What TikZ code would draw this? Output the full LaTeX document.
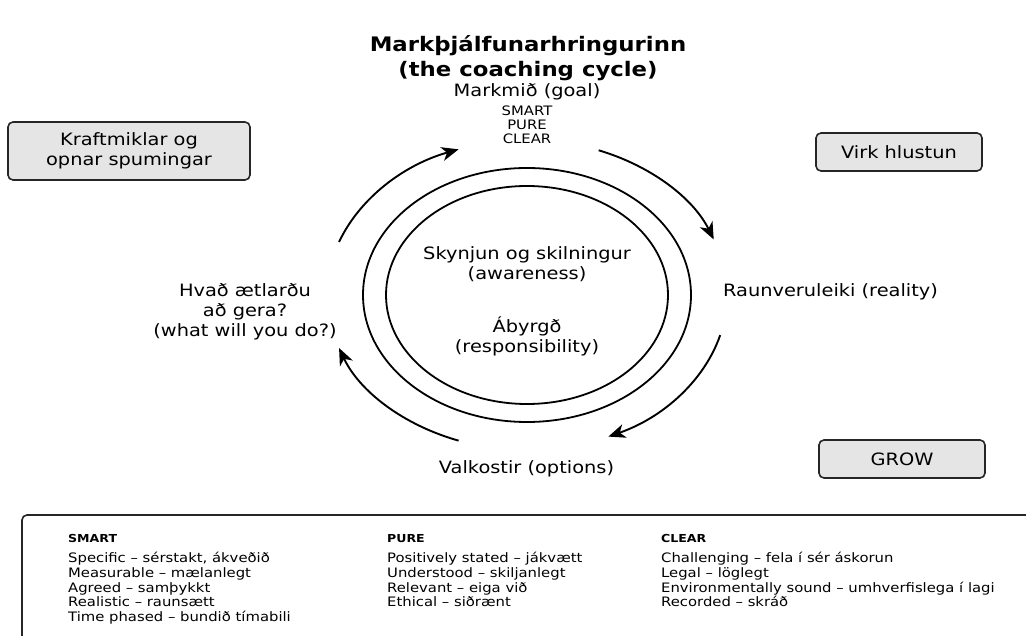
\documentclass[tikz,border=0pt]{standalone}
\usepackage{fontspec}
\setmainfont[FakeStretch=1.14]{DejaVu Sans}
\usetikzlibrary{arrows.meta,calc}

\begin{document}
\begin{tikzpicture}[x=1pt,y=1pt,
  every node/.style={font=\fontsize{17}{20}\selectfont,inner sep=0pt},
  sidebox/.style={draw=black!85,line width=1.6pt,fill=black!10,rounded corners=5pt,align=center},
  cyc/.style={line width=1.9pt,-{Stealth[length=17pt,width=14pt,inset=5pt]}},
  ring/.style={draw,line width=1.8pt},
  tags/.style={font=\fontsize{13}{14.2}\selectfont,align=center},
  listhead/.style={font=\bfseries\fontsize{11}{13}\selectfont,anchor=base west},
  listtext/.style={font=\fontsize{13}{14.8}\selectfont,align=left,anchor=north west}]
\useasboundingbox (0,0) rectangle (1026,635);
% title
\node[font=\bfseries\fontsize{20}{25}\selectfont,align=center] (title) at (528,577) {Markþjálfunarhringurinn\\(the coaching cycle)};
% the two rings
\coordinate (c) at (527,340);
\draw[ring] (c) ellipse [x radius=164,y radius=127];
\draw[ring] (c) ellipse [x radius=141,y radius=109];
\node[align=center] (aware) at (527,371) {Skynjun og skilningur\\(awareness)};
\node[align=center] (resp) at (527,299) {Ábyrgð\\(responsibility)};
% stages
\node (goal) at (527,543) {Markmið (goal)};
\node[tags] (goaltags) at (527,510) {SMART\\PURE\\CLEAR};
\node (reality) at (830.5,343) {Raunveruleiki (reality)};
\node (options) at (526.5,166) {Valkostir (options)};
\node[align=center] (will) at (245,323) {Hvað ætlarðu\\að gera?\\(what will you do?)};
% arrows between the stages
\foreach \a/\b/\n in {69/21/gr, -15/-66/ro, -110/-160/ow, 160/110/wg}{
  \coordinate (\n-s) at ($(c)+(\a:200 and 155)$);
  \draw[cyc] (\n-s) arc[start angle=\a,end angle=\b,x radius=200,y radius=155];
}
% side boxes
\node[sidebox,minimum width=242,minimum height=58] (questions) at (129,484) {Kraftmiklar og\\opnar spumingar};
\node[sidebox,minimum width=166,minimum height=38] (listen) at (899,483) {Virk hlustun};
\node[sidebox,minimum width=166,minimum height=38] (grow) at (902,176) {GROW};
% legend
\draw[line width=1.6pt,draw=black!85,rounded corners=5pt] (22,-20) rectangle (1060,120);
\node[listhead] (smart) at (68,92) {SMART};
\node[listhead] (pure) at (387,92) {PURE};
\node[listhead] (clear) at (661,92) {CLEAR};
\node[listtext] (smartlist) at (68,83) {Specific – sérstakt, ákveðið\\Measurable – mælanlegt\\Agreed – samþykkt\\Realistic – raunsætt\\Time phased – bundið tímabili};
\node[listtext] (purelist) at (387,83) {Positively stated – jákvætt\\Understood – skiljanlegt\\Relevant – eiga við\\Ethical – siðrænt};
\node[listtext] (clearlist) at (661,83) {Challenging – fela í sér áskorun\\Legal – löglegt\\Environmentally sound – umhverfislega í lagi\\Recorded – skráð};
\end{tikzpicture}
\end{document}
